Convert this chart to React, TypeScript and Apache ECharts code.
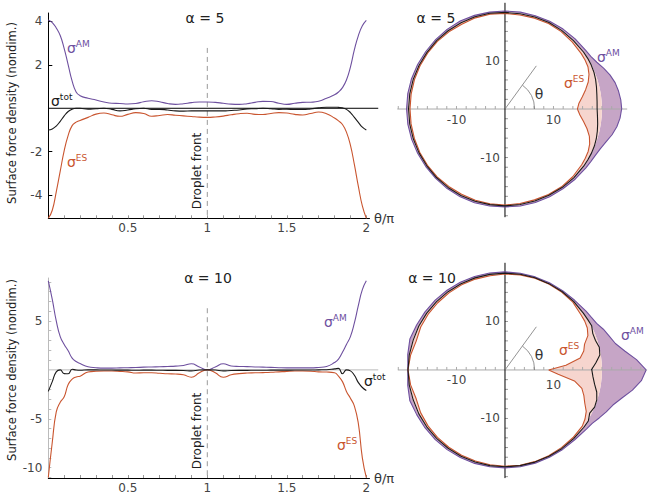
import React, { useEffect, useRef } from 'react';
import * as echarts from 'echarts';

// ---------- data (theta in units of pi) ----------
const THETA = [0, 0.025, 0.05, 0.075, 0.1, 0.125, 0.15, 0.175, 0.2,
  0.25, 0.3, 0.35, 0.4, 0.45, 0.5, 0.55, 0.6, 0.65, 0.7, 0.75, 0.8, 0.85, 0.9, 0.95, 1,
  1.05, 1.1, 1.15, 1.2, 1.25, 1.3, 1.35, 1.4, 1.45, 1.5, 1.55, 1.6, 1.65, 1.7, 1.75,
  1.8, 1.825, 1.85, 1.875, 1.9, 1.925, 1.95, 1.975, 2];

// alpha = 5
const AM_5 = [4.07, 3.95, 3.7, 3.35, 2.75, 2.0, 1.25, 0.75, 0.58,
  0.46, 0.38, 0.29, 0.23, 0.22, 0.2, 0.22, 0.3, 0.35, 0.3, 0.22, 0.18, 0.21, 0.26, 0.29, 0.29,
  0.27, 0.23, 0.19, 0.18, 0.21, 0.27, 0.32, 0.31, 0.23, 0.18, 0.23, 0.27, 0.28, 0.32, 0.46,
  0.62, 0.75, 0.95, 1.3, 1.9, 2.7, 3.35, 3.8, 4.05];
const ES_5 = [-5.07, -4.7, -3.85, -2.9, -1.95, -1.25, -0.8, -0.64, -0.56,
  -0.42, -0.27, -0.22, -0.3, -0.37, -0.28, -0.2, -0.24, -0.37, -0.33, -0.29, -0.32, -0.35, -0.38, -0.41, -0.42,
  -0.4, -0.36, -0.3, -0.25, -0.23, -0.28, -0.29, -0.24, -0.2, -0.22, -0.28, -0.31, -0.24, -0.17, -0.25,
  -0.45, -0.58, -0.75, -1.1, -1.7, -2.6, -3.6, -4.5, -5.07];
const TOT_5 = [-1.0, -0.95, -0.82, -0.6, -0.35, -0.15, -0.04, 0.0, 0.0,
  -0.04, -0.02, 0.0, -0.05, -0.12, -0.08, -0.02, 0.0, -0.05, -0.05, -0.08, -0.12, -0.13, -0.12, -0.12, -0.12,
  -0.12, -0.12, -0.1, -0.08, -0.03, -0.02, 0.0, -0.02, -0.05, -0.04, -0.06, -0.06, -0.03, 0.02, 0.05,
  0.05, 0.04, 0.02, -0.05, -0.2, -0.42, -0.65, -0.87, -1.0];

// alpha = 10
const AM_10 = [9.1, 7.2, 5.0, 3.4, 2.6, 1.95, 1.2, 0.85, 0.65,
  0.32, 0.22, 0.18, 0.18, 0.2, 0.22, 0.24, 0.28, 0.3, 0.32, 0.35, 0.38, 0.45, 0.62, 0.3, 0.02,
  0.3, 0.62, 0.4, 0.35, 0.33, 0.3, 0.28, 0.26, 0.22, 0.2, 0.2, 0.2, 0.2, 0.25, 0.35,
  0.75, 1.1, 1.8, 2.6, 3.4, 4.8, 6.6, 8.2, 9.1];
const ES_10 = [-11.0, -7.4, -4.3, -3.3, -2.75, -1.5, -0.95, -0.72, -0.64,
  -0.22, -0.14, -0.12, -0.12, -0.15, -0.2, -0.32, -0.3, -0.3, -0.35, -0.4, -0.42, -0.5, -0.75, -0.3, 0.0,
  -0.3, -0.75, -0.5, -0.38, -0.32, -0.3, -0.28, -0.25, -0.2, -0.15, -0.12, -0.12, -0.14, -0.2, -0.22,
  -0.3, -0.65, -1.2, -2.2, -2.9, -3.7, -5.5, -9.0, -11.0];
const TOT_10 = [-2.2, -1.2, -0.2, 0.0, -0.38, -0.4, 0.06, -0.02, -0.04,
  0.0, 0.0, -0.02, -0.02, -0.03, -0.03, -0.04, -0.03, -0.03, -0.04, -0.05, -0.05, -0.06, -0.1, -0.02, 0.0,
  -0.02, -0.1, -0.06, -0.05, -0.05, -0.04, -0.04, -0.03, -0.03, -0.03, -0.02, -0.02, -0.02, 0.0, 0.02,
  0.1, 0.15, -0.4, 0.0, -0.1, -0.55, -1.3, -1.8, -2.1];

const DROP_RADIUS = 20;

// ---------- ticks ----------
const X_TICK_LABELS = [0.5, 1, 1.5, 2];
const X_MINOR_TICKS = [0.1, 0.2, 0.3, 0.4, 0.5, 0.6, 0.7, 0.8, 0.9, 1, 1.1, 1.2, 1.3, 1.4, 1.5, 1.6, 1.7, 1.8, 1.9, 2];
const TL_Y_LABELS = [-4, -2, 2, 4];
const BL_Y_LABELS = [-10, -5, 5];
const BL_Y_TICKS = [-11, -10, -9, -8, -7, -6, -5, -4, -3, -2, -1, 1, 2, 3, 4, 5, 6, 7, 8, 9];
const R_LABELS = [-10, 10];
const TR_X_TICKS = [-22, -20, -18, -16, -14, -12, -10, -8, -6, -4, -2, 2, 4, 6, 8, 10, 12, 14, 16, 18, 20, 22, 24];
const BR_X_TICKS = [-22, -20, -18, -16, -14, -12, -10, -8, -6, -4, -2, 2, 4, 6, 8, 10, 12, 14, 16, 18, 20, 22, 24, 26, 28];
const R_Y_TICKS = [-22, -20, -18, -16, -14, -12, -10, -8, -6, -4, -2, 2, 4, 6, 8, 10, 12, 14, 16, 18, 20];

const FONT = 'DejaVu Sans';
const C_AM = '#6e509f';
const C_ES = '#c9552f';
const C_TOT = '#1a1a1a';
const F_AM = '#c6a5c6';
const F_ES = '#f6d5ce';

const ZERO_LINE_END = 2.075;
const FRONT_TOP_5 = 2.78;
const FRONT_TOP_10 = 6.3;
const THETA_MARK_DEG = 54;
const THETA_MARK_LEN = 11;
const THETA_ARC_R = 6.1;
const THETA_LABEL_POS = [7.0, 3.1];

const TR_RANGE = { x: [-22.2, 25.2], y: [-22.3, 21.9] };
const BR_RANGE = { x: [-22.1, 29.3], y: [-22.3, 22.1] };

const pairs = (v: number[]) => THETA.map((t, i) => [t, v[i]]);
const polarPts = (v: number[] | null) =>
  THETA.map((t, i) => {
    const r = DROP_RADIUS + (v ? v[i] : 0);
    const a = t * Math.PI;
    return [r * Math.cos(a), r * Math.sin(a)];
  });

function leftX(g: number) {
  return {
    gridIndex: g, type: 'value', min: 0, max: 2.02,
    axisLine: { onZero: false, lineStyle: { color: '#000', width: 1 } },
    axisTick: { inside: true, length: 3, customValues: X_MINOR_TICKS, lineStyle: { color: '#999' } },
    axisLabel: { customValues: X_TICK_LABELS, color: '#444', fontFamily: FONT, fontSize: 12, margin: 4 },
    splitLine: { show: false },
    name: 'θ/π', nameLocation: 'end', nameGap: 2,
    nameTextStyle: { fontFamily: FONT, fontSize: 13, color: '#333', verticalAlign: 'middle', align: 'left' },
  };
}

function hiddenAxis(g: number, r: number[]) {
  return { gridIndex: g, type: 'value', min: r[0], max: r[1], show: false, splitLine: { show: false } };
}

function lineSeries(g: number, data: number[][], color: string, smooth: boolean, z = 6) {
  return {
    type: 'line', xAxisIndex: g, yAxisIndex: g, data, smooth, showSymbol: false, silent: true,
    lineStyle: { color, width: 1.1 }, z,
  };
}

function leftDecor(g: number, zeroColor: string, frontTop: number, yMin: number) {
  return {
    type: 'custom', xAxisIndex: g, yAxisIndex: g, data: [[0, 0]], silent: true, z: 3,
    renderItem: (_p: any, api: any) => {
      const a = api.coord([0, 0]);
      const b = api.coord([ZERO_LINE_END, 0]);
      const f1 = api.coord([1, frontTop]);
      const f2 = api.coord([1, yMin]);
      return {
        type: 'group', children: [
          { type: 'line', shape: { x1: a[0], y1: a[1], x2: b[0], y2: b[1] }, style: { stroke: zeroColor, lineWidth: 1 } },
          { type: 'line', shape: { x1: f1[0], y1: f1[1], x2: f2[0], y2: f2[1] }, style: { stroke: '#999', lineWidth: 1, lineDash: [5, 4] } },
        ],
      };
    },
  };
}

// axes of the polar panels, crossing at the origin
function crossAxes(g: number, range: any, xt: number[], labelDy: number[]) {
  return {
    type: 'custom', xAxisIndex: g, yAxisIndex: g, data: [[0, 0]], silent: true, z: 4,
    renderItem: (_p: any, api: any) => {
      const h1 = api.coord([range.x[0], 0]);
      const h2 = api.coord([range.x[1], 0]);
      const v1 = api.coord([0, range.y[0]]);
      const v2 = api.coord([0, range.y[1]]);
      const children: any[] = [
        { type: 'line', shape: { x1: h1[0], y1: h1[1], x2: h2[0], y2: h2[1] }, style: { stroke: '#aaa', lineWidth: 1 } },
      ];
      xt.forEach((v) => {
        const p = api.coord([v, 0]);
        children.push({ type: 'line', shape: { x1: p[0], y1: p[1], x2: p[0], y2: p[1] - 3 }, style: { stroke: '#aaa', lineWidth: 1 } });
      });
      R_Y_TICKS.forEach((v) => {
        const p = api.coord([0, v]);
        children.push({ type: 'line', shape: { x1: p[0], y1: p[1], x2: p[0] + 3, y2: p[1] }, style: { stroke: '#999', lineWidth: 1 } });
      });
      children.push({ type: 'line', shape: { x1: v1[0], y1: v1[1], x2: v2[0], y2: v2[1] }, style: { stroke: '#000', lineWidth: 1 } });
      R_LABELS.forEach((v, i) => {
        const p = api.coord([v, 0]);
        children.push({ type: 'text', x: p[0], y: p[1] + labelDy[i], style: { text: String(v), fontFamily: FONT, fontSize: 12, fill: '#444', align: 'center', verticalAlign: 'middle' } });
        const q = api.coord([0, v]);
        children.push({ type: 'text', x: q[0] - 5, y: q[1], style: { text: String(v), fontFamily: FONT, fontSize: 12, fill: '#444', align: 'right', verticalAlign: 'middle' } });
      });
      return { type: 'group', children };
    },
  };
}

function fillSeries(g: number, sig: number[], color: string) {
  const curve = polarPts(sig);
  const base = polarPts(null);
  return {
    type: 'custom', xAxisIndex: g, yAxisIndex: g, data: [[0, 0]], silent: true, z: 2,
    renderItem: (_p: any, api: any) => {
      const pts = curve.map((p) => api.coord(p)).concat(base.slice().reverse().map((p) => api.coord(p)));
      return { type: 'polygon', shape: { points: pts }, style: { fill: color, stroke: null, lineWidth: 0 } };
    },
  };
}

function angleMark(g: number) {
  return {
    type: 'custom', xAxisIndex: g, yAxisIndex: g, data: [[0, 0]], silent: true, z: 7,
    renderItem: (_p: any, api: any) => {
      const o = api.coord([0, 0]);
      const a = (THETA_MARK_DEG * Math.PI) / 180;
      const e = api.coord([THETA_MARK_LEN * Math.cos(a), THETA_MARK_LEN * Math.sin(a)]);
      const rpx = api.size([THETA_ARC_R, 0])[0];
      const tp = api.coord(THETA_LABEL_POS);
      return {
        type: 'group', children: [
          { type: 'line', shape: { x1: o[0], y1: o[1], x2: e[0], y2: e[1] }, style: { stroke: '#777', lineWidth: 0.8 } },
          { type: 'arc', shape: { cx: o[0], cy: o[1], r: rpx, startAngle: -a, endAngle: 0, clockwise: true }, style: { stroke: '#777', lineWidth: 0.8, fill: 'none' } },
          { type: 'text', x: tp[0], y: tp[1], style: { text: 'θ', fontFamily: FONT, fontSize: 14, fill: '#333', align: 'center', verticalAlign: 'middle' } },
        ],
      };
    },
  };
}

function txt(x: number, y: number, text: string, opts: any = {}) {
  return {
    type: 'text', x, y, rotation: opts.rotation || 0, z: 20,
    style: {
      text, fontFamily: FONT, fontSize: opts.fontSize || 13, fill: opts.fill || '#222',
      align: opts.align || 'center', verticalAlign: 'middle',
    },
  };
}

function sigma(x: number, y: number, sup: string, color: string) {
  return {
    type: 'text', x, y, z: 20,
    style: {
      text: `{s|σ}{p|${sup}}`, align: 'left', verticalAlign: 'middle',
      rich: {
        s: { fontFamily: FONT, fontSize: 14, fill: color, lineHeight: 18 },
        p: { fontFamily: FONT, fontSize: 9, fill: color, verticalAlign: 'top', lineHeight: 11 },
      },
    },
  };
}

export default function App() {
  const ref = useRef<HTMLDivElement>(null);
  useEffect(() => {
    if (!ref.current) return;
    const chart = echarts.init(ref.current, undefined, { renderer: 'svg' });
    const option: any = {
      animation: false,
      backgroundColor: '#fff',
      grid: [
        { left: 48.3, top: 13, width: 321.2, height: 205.3 },
        { left: 48.3, top: 278, width: 321.2, height: 200.3 },
        { left: 397.3, top: 2.8, width: 229.9, height: 214.4 },
        { left: 397.8, top: 262.8, width: 249.3, height: 215.3 },
      ],
      xAxis: [leftX(0), leftX(1), hiddenAxis(2, TR_RANGE.x), hiddenAxis(3, BR_RANGE.x)],
      yAxis: [
        {
          gridIndex: 0, type: 'value', min: -5.07, max: 4.39,
          axisLine: { onZero: false, lineStyle: { color: '#000', width: 1 } },
          axisTick: { inside: true, length: 4, customValues: TL_Y_LABELS, lineStyle: { color: '#000' } },
          axisLabel: { customValues: TL_Y_LABELS, color: '#444', fontFamily: FONT, fontSize: 12, margin: 6 },
          splitLine: { show: false },
        },
        {
          gridIndex: 1, type: 'value', min: -11.05, max: 9.39,
          axisLine: { onZero: false, lineStyle: { color: '#bbb', width: 1 } },
          axisTick: { inside: true, length: 3, customValues: BL_Y_TICKS, lineStyle: { color: '#bbb' } },
          axisLabel: { customValues: BL_Y_LABELS, color: '#444', fontFamily: FONT, fontSize: 12, margin: 6 },
          splitLine: { show: false },
        },
        hiddenAxis(2, TR_RANGE.y), hiddenAxis(3, BR_RANGE.y),
      ],
      series: [
        leftDecor(0, '#000', FRONT_TOP_5, -5.07),
        lineSeries(0, pairs(AM_5), C_AM, true),
        lineSeries(0, pairs(ES_5), C_ES, true),
        lineSeries(0, pairs(TOT_5), C_TOT, true),
        leftDecor(1, '#bbb', FRONT_TOP_10, -11.05),
        lineSeries(1, pairs(AM_10), C_AM, true),
        lineSeries(1, pairs(ES_10), C_ES, true),
        lineSeries(1, pairs(TOT_10), C_TOT, true),
        fillSeries(2, AM_5, F_AM),
        fillSeries(2, ES_5, F_ES),
        crossAxes(2, TR_RANGE, TR_X_TICKS, [11, 11]),
        lineSeries(2, polarPts(AM_5), C_AM, false),
        lineSeries(2, polarPts(ES_5), C_ES, false),
        lineSeries(2, polarPts(TOT_5), C_TOT, false),
        angleMark(2),
        fillSeries(3, AM_10, F_AM),
        fillSeries(3, ES_10, F_ES),
        crossAxes(3, BR_RANGE, BR_X_TICKS, [10, 15]),
        lineSeries(3, polarPts(AM_10), C_AM, false),
        lineSeries(3, polarPts(ES_10), C_ES, false),
        lineSeries(3, polarPts(TOT_10), C_TOT, false),
        angleMark(3),
      ],
      graphic: [
        txt(205, 18, 'α = 5', { fontSize: 14 }),
        txt(436, 18, 'α = 5', { fontSize: 14 }),
        txt(208, 278, 'α = 10', { fontSize: 14 }),
        txt(432, 278, 'α = 10', { fontSize: 14 }),
        txt(12, 113, 'Surface force density (nondim.)', { fontSize: 11.5, rotation: Math.PI / 2 }),
        txt(12, 370, 'Surface force density (nondim.)', { fontSize: 11.5, rotation: Math.PI / 2 }),
        txt(197, 171, 'Droplet front', { fontSize: 12, rotation: Math.PI / 2 }),
        txt(197, 431, 'Droplet front', { fontSize: 12, rotation: Math.PI / 2 }),
        sigma(67, 48, 'AM', C_AM),
        sigma(51, 101, 'tot', C_TOT),
        sigma(67, 162, 'ES', C_ES),
        sigma(597, 57, 'AM', C_AM),
        sigma(564, 83, 'ES', C_ES),
        sigma(324, 322, 'AM', C_AM),
        sigma(337, 445, 'ES', C_ES),
        sigma(364, 381, 'tot', C_TOT),
        sigma(559, 350, 'ES', C_ES),
        sigma(621, 335, 'AM', C_AM),
      ],
    };
    chart.setOption(option);
    return () => chart.dispose();
  }, []);
  return <div ref={ref} style={{ position: 'absolute', left: 0, top: 0, width: 648, height: 494 }} />;
}
